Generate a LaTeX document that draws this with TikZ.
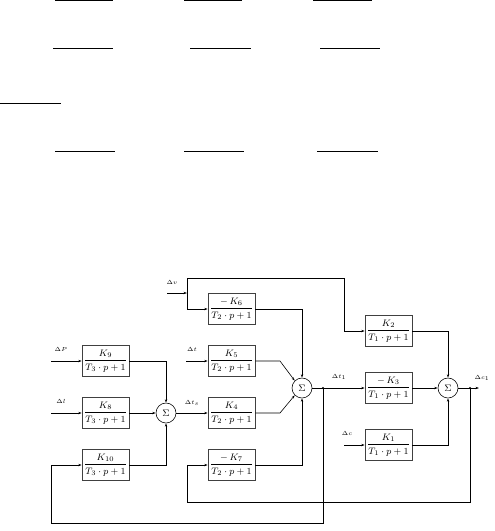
\documentclass[tikz,border=0pt]{standalone}
\usepackage{amsmath}
\usetikzlibrary{arrows.meta,positioning,calc}

\begin{document}
\begin{tikzpicture}[x=0.03cm,y=-0.03cm,>={Stealth[length=3pt,width=2pt]},
  blk/.style={draw=black!75, line width=0.5pt, minimum width=1.41cm, minimum height=0.93cm, inner sep=0pt, font=\footnotesize},
  sum/.style={draw, circle, line width=0.5pt, minimum size=0.6cm, inner sep=0pt, font=\footnotesize},
  sig/.style={font=\fontsize{5}{6}\selectfont, inner sep=0pt},
  every path/.style={line width=0.5pt}]
  \useasboundingbox (0,0) rectangle (494,531);

  % empty fraction bars at the top
  \foreach \xa/\xb/\yy in {55/113/0.6, 184/242/0.6, 313/372/0.6,
                           53/113/48, 190/251/48, 320/380/48,
                           0/61/103,
                           55/115/151, 184/244/151, 317/378/151}
    \draw (\xa,\yy) -- (\xb,\yy);

  % blocks
  \node[blk] (k9)  at (105.5,361) {$\dfrac{K_9}{T_3\cdot p+1}$};
  \node[blk] (k8)  at (105.5,413) {$\dfrac{K_8}{T_3\cdot p+1}$};
  \node[blk] (k10) at (105.5,465) {$\dfrac{K_{10}}{T_3\cdot p+1}$};
  \node[blk] (k6)  at (231.5,309) {$\dfrac{-\,K_6}{T_2\cdot p+1}$};
  \node[blk] (k5)  at (231.5,361) {$\dfrac{K_5}{T_2\cdot p+1}$};
  \node[blk] (k4)  at (231.5,413) {$\dfrac{K_4}{T_2\cdot p+1}$};
  \node[blk] (k7)  at (231.5,465) {$\dfrac{-\,K_7}{T_2\cdot p+1}$};
  \node[blk] (k2)  at (388.5,331) {$\dfrac{K_2}{T_1\cdot p+1}$};
  \node[blk] (k3)  at (388.5,388) {$\dfrac{-\,K_3}{T_1\cdot p+1}$};
  \node[blk] (k1)  at (388.5,445) {$\dfrac{K_1}{T_1\cdot p+1}$};

  % summing junctions
  \node[sum] (s2) at (166,413) {$\Sigma$};
  \node[sum] (s1) at (302,388) {$\Sigma$};
  \node[sum] (s3) at (448,388) {$\Sigma$};

  % signal labels
  \node[sig] (lv)  at (172,283) {$\Delta v$};
  \node[sig] (lP)  at (61,349)  {$\Delta P$};
  \node[sig] (ll)  at (61,401)  {$\Delta l$};
  \node[sig] (lt)  at (192,350) {$\Delta t$};
  \node[sig] (lts) at (192,403) {$\Delta t_s$};
  \node[sig] (lt1) at (339,377) {$\Delta t_1$};
  \node[sig] (lc)  at (347,434) {$\Delta c$};
  \node[sig] (lc1) at (482,378) {$\Delta c_1$};

  % free ends and bends
  \coordinate (inv) at (167,293);
  \coordinate (vj)  at (187,293);
  \coordinate (vtop) at (187,278);
  \coordinate (vr)  at (344,278);
  \coordinate (inP) at (51,361);
  \coordinate (inl) at (51,413);
  \coordinate (int) at (186,361);
  \coordinate (inc) at (344,445);
  \coordinate (a5)  at (280,361);
  \coordinate (a4)  at (280,413);
  \coordinate (t1)  at (323,388);
  \coordinate (c1)  at (470,388);
  \coordinate (out) at (479,388);
  \coordinate (fb1) at (51,465);
  \coordinate (fb2) at (187,465);

  % inputs
  \draw[->] (inv) -- (vj);
  \draw[->] (vtop) |- (k6.west);
  \draw[->] (vtop) -- (vr) |- (k2.west);
  \draw[->] (inP) -- (k9.west);
  \draw[->] (inl) -- (k8.west);
  \draw[->] (int) -- (k5.west);
  \draw[->] (inc) -- (k1.west);

  % left stage
  \draw[->] (k9.east) -| (s2.north);
  \draw[->] (k8.east) -- (s2.west);
  \draw[->] (k10.east) -| (s2.south);
  \draw[->] (s2.east) -- (k4.west);

  % middle stage
  \draw[->] (k6.east) -| (s1.north);
  \draw[->] (k5.east) -- (a5) -- (s1.north west);
  \draw[->] (k4.east) -- (a4) -- (s1.south west);
  \draw[->] (k7.east) -| (s1.south);
  \draw[->] (s1.east) -- (k3.west);

  % right stage
  \draw[->] (k2.east) -| (s3.north);
  \draw[->] (k3.east) -- (s3.west);
  \draw[->] (k1.east) -| (s3.south);
  \draw[->] (s3.east) -- (out);

  % feedback
  \fill (t1) circle (1pt);
  \fill (c1) circle (1pt);
  \draw[->] (t1) -- ++(0,135) -| (fb1) -- (k10.west);
  \draw[->] (c1) -- ++(0,114) -| (fb2) -- (k7.west);
\end{tikzpicture}
\end{document}
